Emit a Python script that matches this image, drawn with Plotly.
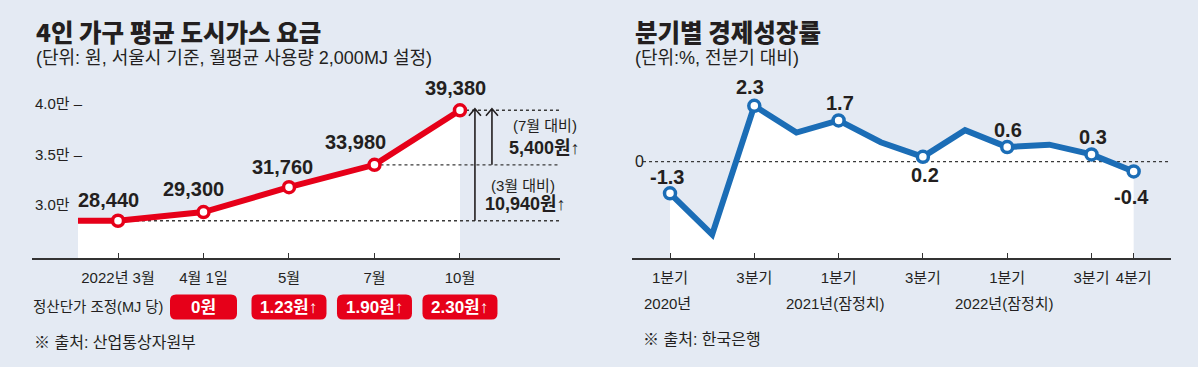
import plotly.graph_objects as go

W, H = 1198, 367
BG = "#e4eaf3"
INK = "#231f20"
RED = "#e60019"
BLUE = "#1b6db6"
FONT = "Liberation Sans, Noto Sans CJK KR, sans-serif"
KFONT = "Noto Sans CJK KR, sans-serif"

# ---------------- data: left chart (gas bill) ----------------
gas_dates = ["2022년 3월", "4월 1일", "5월", "7월", "10월"]
gas_bills = [28440, 29300, 31760, 33980, 39380]
unit_price_adj = [None, 0.00, 1.23, 1.90, 2.30]   # 정산단가 조정 (원/MJ)
gas_yticks = [30000, 35000, 40000]
gas_yticktext = ["3.0만", "3.5만 –", "4.0만 –"]

# ---------------- data: right chart (GDP growth) ----------------
gdp_quarters = ["2020Q1", "2020Q2", "2020Q3", "2020Q4", "2021Q1", "2021Q2",
                "2021Q3", "2021Q4", "2022Q1", "2022Q2", "2022Q3", "2022Q4"]
gdp_growth = [-1.3, -3.0, 2.3, 1.2, 1.7, 0.8, 0.2, 1.3, 0.6, 0.7, 0.3, -0.4]
gdp_marked = [0, 2, 4, 6, 8, 10, 11]
gdp_tickvals = [0, 2, 4, 6, 8, 10, 11]
gdp_ticktext = ["1분기", "3분기", "1분기", "3분기", "1분기", "3분기", "4분기"]
gdp_year_idx = [0, 4, 8]
gdp_year_text = ["2020년", "2021년(잠정치)", "2022년(잠정치)"]


def px(x):
    return x / W


def py(y):
    return 1 - y / H


# axis ranges (layout)
X1 = [-1.006, 5.17]
Y1 = [24752, 43366]
X2 = [-0.9015, 11.886]
Y2 = [-3.963, 3.774]
KX1 = (560 - 32) / (X1[1] - X1[0])       # px per x unit (left)
KY1 = (258 - 70) / (Y1[1] - Y1[0])       # px per y unit (left)

fig = go.Figure()

# ---------- left chart traces ----------
lead_x = -0.468
xl = [lead_x] + list(range(len(gas_bills)))
yl = [gas_bills[0]] + gas_bills
fig.add_trace(go.Scatter(x=xl, y=yl, mode="lines", line=dict(width=0, color="white"),
                         fill="tozeroy", fillcolor="white", xaxis="x", yaxis="y",
                         hoverinfo="skip", showlegend=False))
for i in (0, 3, 4):
    fig.add_trace(go.Scatter(x=[i, X1[1]], y=[gas_bills[i], gas_bills[i]], mode="lines",
                             line=dict(color="#3a3a3a", width=1.3, dash="dot"),
                             xaxis="x", yaxis="y", hoverinfo="skip", showlegend=False))
fig.add_trace(go.Scatter(x=xl, y=yl, mode="lines", line=dict(color=RED, width=6),
                         xaxis="x", yaxis="y", hoverinfo="skip", showlegend=False))
fig.add_trace(go.Scatter(x=list(range(len(gas_bills))), y=gas_bills, mode="markers",
                         marker=dict(size=11, color="white", line=dict(color=RED, width=3.5)),
                         xaxis="x", yaxis="y", hoverinfo="skip", showlegend=False))

# ---------- right chart traces ----------
xr = list(range(len(gdp_growth)))
fig.add_trace(go.Scatter(x=xr, y=[Y2[0]] * len(xr), mode="lines", line=dict(width=0),
                         xaxis="x2", yaxis="y2", hoverinfo="skip", showlegend=False))
fig.add_trace(go.Scatter(x=xr, y=gdp_growth, mode="lines", line=dict(width=0),
                         fill="tonexty", fillcolor="white",
                         xaxis="x2", yaxis="y2", hoverinfo="skip", showlegend=False))
fig.add_trace(go.Scatter(x=[-0.64, 11.86], y=[0, 0], mode="lines",
                         line=dict(color="#3a3a3a", width=1.3, dash="dot"),
                         xaxis="x2", yaxis="y2", hoverinfo="skip", showlegend=False))
fig.add_trace(go.Scatter(x=xr, y=gdp_growth, mode="lines", line=dict(color=BLUE, width=6),
                         xaxis="x2", yaxis="y2", hoverinfo="skip", showlegend=False))
fig.add_trace(go.Scatter(x=gdp_marked, y=[gdp_growth[i] for i in gdp_marked], mode="markers",
                         marker=dict(size=11, color="white", line=dict(color=BLUE, width=3.5)),
                         xaxis="x2", yaxis="y2", hoverinfo="skip", showlegend=False))

ann = []
shapes = []

# titles
for x0, t, s in [(35, "4인 가구 평균 도시가스 요금",
                  "(단위: 원, 서울시 기준, 월평균 사용량 2,000MJ 설정)"),
                 (634, "분기별 경제성장률", "(단위:%, 전분기 대비)")]:
    ann.append(dict(x=px(x0 - 1), y=py(31), xref="paper", yref="paper", xanchor="left",
                    yanchor="middle", showarrow=False, text=t,
                    font=dict(family=KFONT, size=24.5, color=INK, weight=900)))
    ann.append(dict(x=px(x0 - 1), y=py(57.5), xref="paper", yref="paper", xanchor="left",
                    yanchor="middle", showarrow=False, text=s,
                    font=dict(family=FONT, size=18, color=INK)))

# left value labels
gas_label_shift = [(-10, 21), (-10, 23), (-6, 20), (-19, 23), (-4, 22)]
for i, v in enumerate(gas_bills):
    dx, dy = gas_label_shift[i]
    ann.append(dict(x=i, y=v, xref="x", yref="y", text=f"<b>{v:,}</b>", showarrow=False,
                    xshift=dx, yshift=dy, font=dict(family=FONT, size=20, color=INK)))

# right value labels
gdp_label_shift = {0: (-3, 16), 2: (-4, 19), 4: (1, 17), 6: (2, -18), 8: (1, 17),
                   10: (1, 17), 11: (-2, -26)}
for i in gdp_marked:
    dx, dy = gdp_label_shift[i]
    ann.append(dict(x=i, y=gdp_growth[i], xref="x2", yref="y2",
                    text=f"<b>{gdp_growth[i]:.1f}</b>", showarrow=False,
                    xshift=dx, yshift=dy, font=dict(family=FONT, size=20, color=INK)))

# year labels on right x-axis
for i, t in zip(gdp_year_idx, gdp_year_text):
    ann.append(dict(x=i, y=py(303), xref="x2", yref="paper", text=t, showarrow=False,
                    xshift=-3, yanchor="middle", font=dict(family=FONT, size=15, color=INK)))

# comparison arrows (left)
last = len(gas_bills) - 1
top = gas_bills[last] + 150
chev_dx = 6 / KX1
chev_dy = 7 / KY1
for xo, base in [(last + 0.175, gas_bills[0]), (last + 0.374, gas_bills[3])]:
    path = (f"M{xo},{base} L{xo},{top} M{xo - chev_dx},{top - chev_dy} "
            f"L{xo},{top} L{xo + chev_dx},{top - chev_dy}")
    shapes.append(dict(type="path", path=path, xref="x", yref="y",
                       line=dict(color=INK, width=1.6)))

d7 = gas_bills[4] - gas_bills[3]
d3 = gas_bills[4] - gas_bills[0]
for xc, yc, t, b in [(545, 125, "(7월 대비)", False), (544, 148, f"{d7:,}원↑", True),
                     (523, 185, "(3월 대비)", False), (525, 204, f"{d3:,}원↑", True)]:
    ann.append(dict(x=px(xc), y=py(yc), xref="paper", yref="paper", showarrow=False,
                    text=f"<b>{t}</b>" if b else t, yanchor="middle",
                    font=dict(family=FONT, size=18 if b else 15, color=INK)))

# price adjustment badges
ann.append(dict(x=px(31), y=py(307), xref="paper", yref="paper", xanchor="left",
                yanchor="middle", showarrow=False, text="정산단가 조정(MJ 당)",
                font=dict(family=FONT, size=14.5, color=INK)))


def rrect(cx, hw, y0, y1, rx, ry):
    return (f"M{cx - hw + rx},{y1} L{cx + hw - rx},{y1} Q{cx + hw},{y1} {cx + hw},{y1 - ry} "
            f"L{cx + hw},{y0 + ry} Q{cx + hw},{y0} {cx + hw - rx},{y0} L{cx - hw + rx},{y0} "
            f"Q{cx - hw},{y0} {cx - hw},{y0 + ry} L{cx - hw},{y1 - ry} Q{cx - hw},{y1} {cx - hw + rx},{y1} Z")


for i, a in enumerate(unit_price_adj):
    if a is None:
        continue
    txt = "0원" if a == 0 else f"{a:.2f}원↑"
    wpx = 67 if a == 0 else 75
    shapes.append(dict(type="path", xref="x", yref="paper",
                       path=rrect(i, wpx / 2 / KX1, py(319.5), py(294.5), 6 / KX1, 6 / H),
                       fillcolor=RED, line=dict(width=0)))
    ann.append(dict(x=i, y=py(307), xref="x", yref="paper", showarrow=False,
                    text=f"<b>{txt}</b>", yanchor="middle",
                    font=dict(family=FONT, size=17, color="white")))

# sources
ann.append(dict(x=px(32), y=py(342), xref="paper", yref="paper", xanchor="left",
                yanchor="middle", showarrow=False, text="※ 출처: 산업통상자원부",
                font=dict(family=FONT, size=16, color=INK)))
ann.append(dict(x=px(641), y=py(339), xref="paper", yref="paper", xanchor="left",
                yanchor="middle", showarrow=False, text="※ 출처: 한국은행",
                font=dict(family=FONT, size=16, color=INK)))

axis_common = dict(showgrid=False, zeroline=False, fixedrange=True)
fig.update_layout(
    width=W, height=H, margin=dict(l=0, r=0, t=0, b=0),
    paper_bgcolor=BG, plot_bgcolor="rgba(0,0,0,0)", showlegend=False, hovermode=False,
    xaxis=dict(domain=[px(32), px(560)], range=X1, anchor="y", showline=True,
               linecolor="#333333", linewidth=1.6, ticks="inside", ticklen=5,
               tickcolor="#333333", tickwidth=1, tickvals=list(range(len(gas_dates))),
               ticktext=gas_dates, ticklabelstandoff=5, tickangle=0,
               tickfont=dict(family=FONT, size=15, color=INK), **axis_common),
    yaxis=dict(domain=[py(258), py(70)], range=Y1, anchor="x", showline=False,
               tickvals=gas_yticks, ticktext=gas_yticktext, ticklabelposition="inside",
               ticks="", tickfont=dict(family=FONT, size=15, color=INK), **axis_common),
    xaxis2=dict(domain=[px(632), px(1171)], range=X2, anchor="y2", showline=True,
                linecolor="#333333", linewidth=1.6, ticks="inside", ticklen=5,
                tickcolor="#333333", tickwidth=1, tickvals=gdp_tickvals,
                ticktext=gdp_ticktext, ticklabelstandoff=5, tickangle=0,
                tickfont=dict(family=FONT, size=15, color=INK), **axis_common),
    yaxis2=dict(domain=[py(258), py(70)], range=Y2, anchor="x2", showline=False,
                tickvals=[0], ticktext=["0"], ticklabelposition="inside", ticks="",
                tickfont=dict(family=FONT, size=16, color=INK), **axis_common),
    annotations=ann, shapes=shapes,
)

fig.write_html("out.html", config={"displayModeBar": False, "staticPlot": True},
               post_script="document.body.style.margin='0px';"
                           "document.body.style.backgroundColor='#e4eaf3';")
